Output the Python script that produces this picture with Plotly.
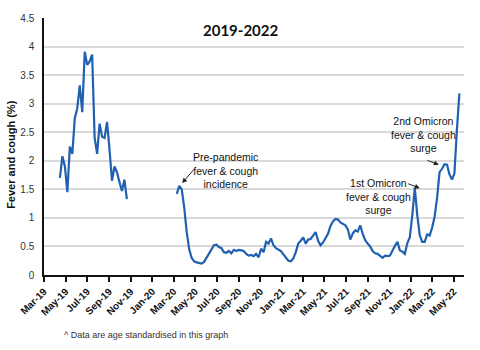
import pandas as pd
import plotly.graph_objects as go

# Weekly fever & cough incidence (%), age standardised
start_2019 = "2019-04-15"
values_2019 = [1.70, 2.08, 1.90, 1.45, 2.25, 2.12, 2.75, 2.92, 3.32, 2.85,
               3.91, 3.68, 3.74, 3.86, 2.40, 2.12, 2.65, 2.42, 2.40, 2.68,
               2.20, 1.65, 1.90, 1.80, 1.63, 1.47, 1.67, 1.33]

start_2020 = "2020-03-10"
values_2020 = [1.42, 1.56, 1.50, 1.18, 0.75, 0.45, 0.30, 0.24, 0.22, 0.21,
               0.20, 0.23, 0.30, 0.36, 0.45, 0.52, 0.53, 0.49, 0.47, 0.40,
               0.39, 0.42, 0.38, 0.44, 0.42, 0.44, 0.43, 0.42, 0.37, 0.34,
               0.35, 0.33, 0.37, 0.31, 0.46, 0.40, 0.58, 0.55, 0.64, 0.52,
               0.47, 0.44, 0.42, 0.36, 0.30, 0.25, 0.24, 0.29, 0.40, 0.55,
               0.60, 0.66, 0.55, 0.62, 0.63, 0.69, 0.75, 0.60, 0.52, 0.57,
               0.64, 0.72, 0.86, 0.94, 0.98, 0.97, 0.92, 0.89, 0.87, 0.80,
               0.62, 0.73, 0.78, 0.76, 0.87, 0.72, 0.61, 0.55, 0.50, 0.42,
               0.38, 0.37, 0.34, 0.30, 0.34, 0.33, 0.34, 0.44, 0.51, 0.58,
               0.43, 0.41, 0.37, 0.56, 0.66, 1.05, 1.53, 1.05, 0.70, 0.58,
               0.58, 0.71, 0.69, 0.83, 1.02, 1.35, 1.80, 1.86, 1.94, 1.93,
               1.76, 1.67, 1.78, 2.55, 3.18]

dates_2019 = pd.date_range(start_2019, periods=len(values_2019), freq="7D")
dates_2020 = pd.date_range(start_2020, periods=len(values_2020), freq="7D")

# one trace, with a break between the two collection periods
x = list(dates_2019) + [None] + list(dates_2020)
y = values_2019 + [None] + values_2020

BLUE = "#1f60b0"
GRID = "#d9d9d9"

fig = go.Figure()
fig.add_trace(go.Scatter(
    x=x, y=y, mode="lines", connectgaps=False,
    line=dict(color=BLUE, width=2.2), hoverinfo="skip", showlegend=False,
))

note_font = dict(family="Liberation Sans Narrow, Arial Narrow, Liberation Sans, Arial",
                 size=10.5, color="#111")

annotations = [
    dict(text="<b>2019-2022</b>", xref="paper", yref="paper", x=0.467, y=0.955,
         xanchor="center", yanchor="middle", showarrow=False,
         font=dict(family="Lato", size=15, color="#111")),
    dict(text="<b>Fever and cough (%)</b>", xref="paper", yref="paper",
         x=-0.077, y=0.47, textangle=-90, xanchor="center", yanchor="middle",
         showarrow=False, font=dict(family="Liberation Sans, Arial", size=11, color="#111")),
    dict(text="^ Data are age standardised in this graph", xref="paper", yref="paper",
         x=0.243, y=-0.235, xanchor="center", yanchor="middle", showarrow=False,
         font=dict(family="Liberation Sans, Arial", size=9, color="#333")),
    # labels
    dict(text="Pre-pandemic<br>fever & cough<br>incidence", xref="paper", yref="paper",
         x=(225 - 44) / 420, y=(275 - 169) / 260, xanchor="center", yanchor="middle",
         showarrow=False, font=note_font),
    dict(text="1st Omicron<br>fever & cough<br>surge", xref="paper", yref="paper",
         x=(378 - 44) / 420, y=(275 - 196) / 260, xanchor="center", yanchor="middle",
         showarrow=False, font=note_font),
    dict(text="2nd Omicron<br>fever & cough<br>surge", xref="paper", yref="paper",
         x=(423 - 44) / 420, y=(275 - 133) / 260, xanchor="center", yanchor="middle",
         showarrow=False, font=note_font),
]

# pointer arrows
arrow_style = dict(showarrow=True, arrowhead=2, arrowsize=1, arrowwidth=1,
                   arrowcolor="#222", axref="pixel", ayref="pixel", text="")
for ax_date, ay_val, dx, dy in [("2020-03-25", 1.61, 13, -15),
                                ("2022-01-25", 1.52, -13, -5),
                                ("2022-03-20", 1.93, -13, -5)]:
    annotations.append(dict(x=ax_date, y=ay_val, xref="x", yref="y",
                            ax=dx, ay=dy, **arrow_style))

fig.update_layout(
    width=480, height=350,
    margin=dict(l=44, r=16, t=15, b=75),
    paper_bgcolor="white", plot_bgcolor="white",
    annotations=annotations,
    xaxis=dict(
        type="date", range=["2019-03-01", "2022-05-30"],
        tick0="2019-03-01", dtick="M2", tickformat="%b-%y", tickangle=-45,
        ticks="outside", ticklen=5, tickwidth=1.5, tickcolor="#111",
        showline=True, linecolor="#111", linewidth=1.5,
        showgrid=False, zeroline=False,
        tickfont=dict(family="Liberation Sans, Arial", size=10, color="#111", weight="bold"),
    ),
    yaxis=dict(
        range=[0, 4.5], dtick=0.5, tick0=0,
        showgrid=True, gridcolor=GRID, gridwidth=1.5,
        showline=True, linecolor="#111", linewidth=1.5,
        zeroline=False, ticks="", ticklabelstandoff=6,
        tickfont=dict(family="Liberation Sans Narrow, Arial Narrow, Liberation Sans, Arial",
                      size=10, color="#333"),
    ),
)

fig.write_html("out.html")
